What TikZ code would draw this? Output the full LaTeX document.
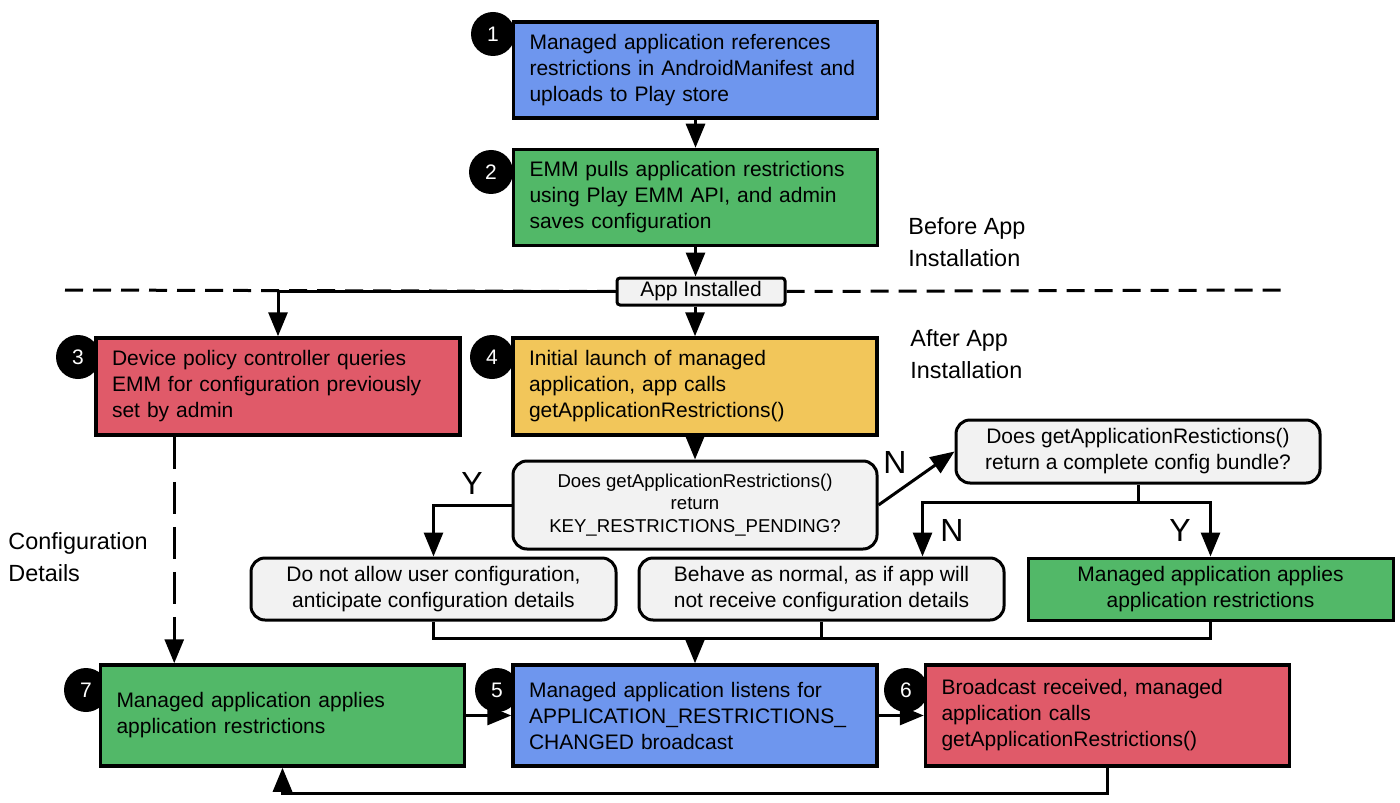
\documentclass[tikz,border=0pt]{standalone}
\usepackage{fontspec}
\setmainfont{Liberation Sans}
\usepackage{tikz}
\usetikzlibrary{calc,positioning,arrows.meta,backgrounds}
\definecolor{stepblue}{HTML}{6E96EE}
\definecolor{stepgreen}{HTML}{52B868}
\definecolor{stepred}{HTML}{E05A69}
\definecolor{stepyellow}{HTML}{F2C65A}
\definecolor{askgray}{HTML}{F2F2F2}
\tikzset{
	stepbox/.style={draw, line width=1.75pt, text width=166pt, inner xsep=8pt, align=left, minimum height=48pt, font={\fontsize{10.5}{13}\selectfont}},
	askbox/.style={draw, line width=1.5pt, rounded corners=7pt, fill=askgray, align=center, minimum width=182.5pt, minimum height=31pt, font={\fontsize{10.5}{13}\selectfont}},
	numdot/.style={circle, fill=black, minimum size=22pt, inner sep=0pt, text=white, font={\fontsize{10.5}{13}\selectfont}},
	flow/.style={line width=1.5pt, -{Triangle[length=12pt,width=9.5pt]}},
	yn/.style={font={\fontsize{16}{18}\selectfont}},
	side/.style={align=left, anchor=west, inner sep=0pt, font={\fontsize{11.7}{16}\selectfont}}
}
\begin{document}
\begin{tikzpicture}[x=0.5pt,y=-0.5pt]
		\useasboundingbox (0,0) rectangle (1400,802);
		\node(b1) [stepbox, fill=stepblue] at (695.5,70) {Managed application references\\restrictions in AndroidManifest and\\uploads to Play store};
		\node(b2) [stepbox, fill=stepgreen, below=14pt of b1] {EMM pulls application restrictions\\using Play EMM API, and admin\\saves configuration};
		\node(inst) [draw, line width=1.5pt, rounded corners=1.5pt, fill=askgray, minimum width=84pt, minimum height=13.5pt, inner sep=0pt, font={\fontsize{10.5}{13}\selectfont}] at (701,291.5) {App Installed};
		\node(b3) [stepbox, fill=stepred, minimum height=48.5pt] at (278,386.5) {Device policy controller queries\\EMM for configuration previously\\set by admin};
		\node(b4) [stepbox, fill=stepyellow, minimum height=48.5pt] at (695,386.5) {Initial launch of managed\\application, app calls\\getApplicationRestrictions()};
		\node(d1) [askbox, minimum width=182pt, minimum height=44pt, font={\fontsize{9.3}{11.2}\selectfont}] at (695,505) {Does getApplicationRestrictions()\\return\\KEY\_RESTRICTIONS\_PENDING?};
		\node(d2) [askbox, minimum width=182pt, minimum height=31.5pt] at (1138,451.5) {Does getApplicationRestictions()\\return a complete config bundle?};
		\node(g2) [askbox] at (821.5,589) {Behave as normal, as if app will\\not receive configuration details};
		\node(g1) [askbox, left=10pt of g2] {Do not allow user configuration,\\anticipate configuration details};
		\node(b8) [askbox, sharp corners, fill=stepgreen, right=10.5pt of g2] {Managed application applies\\application restrictions};
		\node(b5) [stepbox, fill=stepblue, minimum height=50.5pt] at (695,715.5) {Managed application listens for\\APPLICATION\_RESTRICTIONS\_\\CHANGED broadcast};
		\node(b7) [stepbox, fill=stepgreen, minimum height=50.5pt, left=22.5pt of b5] {Managed application applies\\application restrictions};
		\node(b6) [stepbox, fill=stepred, minimum height=50.5pt, right=22.5pt of b5] {Broadcast received, managed\\application calls\\getApplicationRestrictions()};
		% answers and side notes
		\node(yes1) [yn] at (472,483) {Y};
		\node(no1) [yn] at (895,462) {N};
		\node(no2) [yn] at (952,530) {N};
		\node(yes2) [yn] at (1180,530) {Y};
		\node(before) [side] at (908,242) {Before App\\Installation};
		\node(after) [side] at (910,354) {After App\\Installation};
		\node(conf) [side] at (8,557) {Configuration\\Details};
		\coordinate(dl) at (65,290);
		\coordinate(dr) at (1285,290);
		\coordinate(split) at ($(d2.south)+(0,18)$);
		\coordinate(g2in) at ($(g2.north east)+(-83,0)$);
		\coordinate(merge) at (695,638);
		\coordinate(cfg) at ($(b3.south west)+(80,0)$);
		\begin{scope}[on background layer]
			\draw[line width=1.5pt, dash pattern=on 9pt off 5pt] (dl) -- (inst.west) (inst.east) -- (dr);
			\draw[flow] (b1) -- (b2);
			\draw[flow] (b2.south) -- (b2.south |- inst.north);
			\draw[flow] (b4.north |- inst.south) -- (b4.north);
			\draw[flow] (inst.west) -| (b3.north);
			\draw[flow] (b4) -- (d1);
			\draw[flow] (d1.west) -| (g1.north);
			\draw[flow] (d1.east) -- (d2.west);
			\draw[line width=1.5pt] (d2.south) -- (split);
			\draw[flow] (split) -| (g2in);
			\draw[flow] (split) -| (b8.north);
			\draw[line width=1.5pt] (g1.south) |- (merge) -| (b8.south) (g2.south) -- (g2.south |- merge);
			\draw[flow] (merge) -- (b5.north);
			\draw[flow, dash pattern=on 16pt off 6.5pt] (cfg) -- (cfg |- b7.north);
			\draw[flow] (b7) -- (b5);
			\draw[flow] (b5) -- (b6);
			\draw[flow] (b6.south) -- ++(0,26) -| (b7.south);
			\foreach \k/\px/\py in {1/493/34,2/491/172,3/78/357,4/492/357,5/497/690,6/906/690,7/86/690}
				\node(dot\k) [numdot] at (\px,\py) {\k};
		\end{scope}
	\end{tikzpicture}
\end{document}
